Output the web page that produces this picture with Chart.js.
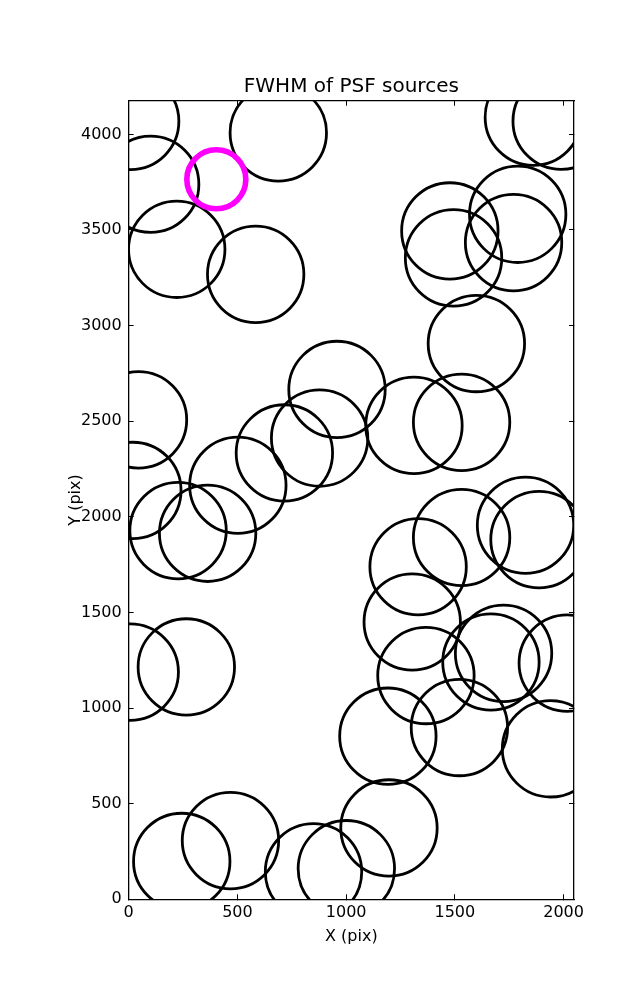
<!DOCTYPE html>
<html>
<head>
<meta charset="utf-8">
<title>FWHM of PSF sources</title>
<script src="https://cdn.jsdelivr.net/npm/chart.js@4/dist/chart.umd.min.js"></script>
<style>
  html, body { margin: 0; padding: 0; background: #fff; }
  #fwhmChart { display: block; }
</style>
</head>
<body>
<canvas id="fwhmChart" width="637" height="1000"></canvas>
<script>
// PSF source positions (pixels on the detector)
const srcX = [9, 101, 688, 221, 584, 1861, 1989, 1477, 1494, 1789, 1770, 1599,
    45, 19, 227, 363, 502, 716, 878, 958, 1312, 1531, 1531, 1825, 1887, 1331,
    1304, 1367, 1666, 1724, 2017, 1521, 1940, 1192, 1197, 1001, 850, 468, 244,
    265, 7];
const srcY = [4068, 3739, 4008, 3399, 3268, 4090, 4069, 3495, 3354, 3582, 3434, 2906,
    2507, 2138, 1928, 1914, 2165, 2334, 2412, 2666, 2478, 2494, 1892, 1956, 1881, 1739,
    1450, 1170, 1241, 1286, 1235, 898, 787, 853, 373, 160, 144, 307, 198,
    1215, 1188];

// highlighted source
const refX = [403];
const refY = [3765];

// axis ticks
const xTicks = [0, 500, 1000, 1500, 2000];
const yTicks = [0, 500, 1000, 1500, 2000, 2500, 3000, 3500, 4000];
const xMax = 2048;
const yMax = 4176;

function toPoints(xs, ys) {
    return xs.map((x, i) => ({ x: x, y: ys[i] }));
}

function setTicks(list) {
    return function (scale) {
        scale.ticks = list.map(v => ({ value: v }));
    };
}

// plain numbers, no thousands separator
function plainLabel(value) {
    return String(value);
}

// inward tick marks like the matplotlib frame
const tickGrid = {
    drawOnChartArea: false,
    drawTicks: true,
    tickLength: -5,
    color: '#000',
    lineWidth: 1
};
const frame = { display: true, color: '#000', width: 1.3 };

Chart.defaults.font.family = 'DejaVu Sans';
Chart.defaults.color = '#000';

function renderChart() {
    const ctx = document.getElementById('fwhmChart').getContext('2d');

    new Chart(ctx, {
        type: 'scatter',
        data: {
            datasets: [{
                label: 'reference',
                data: toPoints(refX, refY),
                pointRadius: 29.5,
                pointHoverRadius: 29.5,
                pointBorderWidth: 5.6,
                pointHoverBorderWidth: 5.6,
                pointBorderColor: '#ff00ff',
                pointBackgroundColor: 'rgba(0,0,0,0)',
                clip: 0
            }, {
                label: 'sources',
                data: toPoints(srcX, srcY),
                pointRadius: 48.2,
                pointHoverRadius: 48.2,
                pointBorderWidth: 2.8,
                pointHoverBorderWidth: 2.8,
                pointBorderColor: '#000',
                pointBackgroundColor: 'rgba(0,0,0,0)',
                clip: 0
            }]
        },
        options: {
            responsive: false,
            animation: false,
            devicePixelRatio: 1,
            events: [],
            layout: { padding: { left: 0, right: 63, top: 0, bottom: 0 } },
            plugins: {
                legend: { display: false },
                tooltip: { enabled: false },
                title: { display: false }
            },
            scales: {
                x: {
                    type: 'linear',
                    position: 'bottom',
                    min: 0,
                    max: xMax,
                    afterBuildTicks: setTicks(xTicks),
                    afterFit: s => { s.height = 100.7; },
                    ticks: { font: { size: 16 }, padding: 8.8, maxRotation: 0, autoSkip: false, callback: plainLabel },
                    grid: tickGrid,
                    border: frame,
                    title: {
                        display: true,
                        text: 'X (pix)',
                        font: { size: 16 },
                        padding: { top: 0, bottom: 53.4 }
                    }
                },
                y: {
                    type: 'linear',
                    position: 'left',
                    min: 0,
                    max: yMax,
                    afterBuildTicks: setTicks(yTicks),
                    afterFit: s => { s.width = 128.7; },
                    ticks: { font: { size: 16 }, padding: 12, autoSkip: false, callback: plainLabel },
                    grid: tickGrid,
                    border: frame,
                    title: {
                        display: true,
                        text: 'Y (pix)',
                        font: { size: 16 },
                        padding: { top: 66, bottom: 0 }
                    }
                },
                // top frame edge; carries the chart title so it centres over the plot
                x2: {
                    type: 'linear',
                    position: 'top',
                    min: 0,
                    max: xMax,
                    afterBuildTicks: setTicks(xTicks),
                    afterFit: s => { s.height = 100.7; },
                    ticks: { display: false },
                    grid: tickGrid,
                    border: frame,
                    title: {
                        display: true,
                        text: 'FWHM of PSF sources',
                        font: { size: 20 },
                        padding: { top: 74.8, bottom: 0 }
                    }
                },
                y2: {
                    type: 'linear',
                    position: 'right',
                    min: 0,
                    max: yMax,
                    afterBuildTicks: setTicks(yTicks),
                    afterFit: s => { s.width = 0; },
                    ticks: { display: false },
                    grid: tickGrid,
                    border: frame
                }
            }
        }
    });
}

document.addEventListener('DOMContentLoaded', function () {
    renderChart();
});
</script>
</body>
</html>
